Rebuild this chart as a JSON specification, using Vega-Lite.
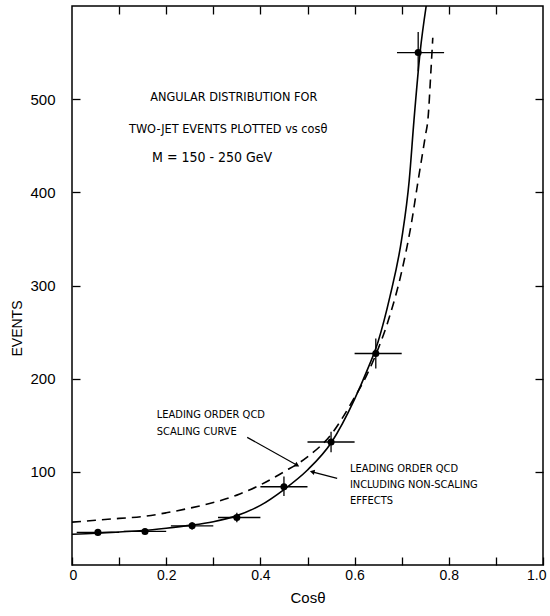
{
  "$schema": "https://vega.github.io/schema/vega-lite/v6.json",
  "width": 471,
  "height": 559,
  "autosize": {"type": "none"},
  "padding": {"left": 72, "top": 6, "right": 7, "bottom": 51},
  "background": "white",
  "config": {
    "view": {"stroke": "black", "strokeWidth": 1.5},
    "font": "Liberation Sans"
  },
  "datasets": {
    "points": [
      {"x": 0.055, "y": 35, "xlo": 0.01, "xhi": 0.1, "ylo": 32, "yhi": 38},
      {"x": 0.155, "y": 36, "xlo": 0.11, "xhi": 0.2, "ylo": 33, "yhi": 39},
      {"x": 0.255, "y": 42, "xlo": 0.21, "xhi": 0.3, "ylo": 38, "yhi": 46},
      {"x": 0.35, "y": 51, "xlo": 0.31, "xhi": 0.4, "ylo": 46, "yhi": 56},
      {"x": 0.45, "y": 84, "xlo": 0.4, "xhi": 0.5, "ylo": 74, "yhi": 95},
      {"x": 0.55, "y": 132, "xlo": 0.5, "xhi": 0.6, "ylo": 121, "yhi": 143},
      {"x": 0.645, "y": 227, "xlo": 0.6, "xhi": 0.7, "ylo": 211, "yhi": 243},
      {"x": 0.735, "y": 550, "xlo": 0.69, "xhi": 0.79, "ylo": 530, "yhi": 572}
    ],
    "solid": [
      {"x": 0, "y": 33}, {"x": 0.05, "y": 34}, {"x": 0.1, "y": 35.5}, {"x": 0.15, "y": 37},
      {"x": 0.2, "y": 39.5}, {"x": 0.25, "y": 42.5}, {"x": 0.3, "y": 46.5}, {"x": 0.35, "y": 53},
      {"x": 0.4, "y": 64}, {"x": 0.45, "y": 81}, {"x": 0.5, "y": 102}, {"x": 0.55, "y": 131},
      {"x": 0.6, "y": 178}, {"x": 0.625, "y": 207}, {"x": 0.65, "y": 240}, {"x": 0.675, "y": 288},
      {"x": 0.7, "y": 350}, {"x": 0.716, "y": 413}, {"x": 0.726, "y": 477}, {"x": 0.739, "y": 550},
      {"x": 0.752, "y": 600}
    ],
    "dashed": [
      {"x": 0, "y": 46}, {"x": 0.05, "y": 48}, {"x": 0.1, "y": 50}, {"x": 0.15, "y": 52},
      {"x": 0.2, "y": 56}, {"x": 0.25, "y": 61}, {"x": 0.3, "y": 67}, {"x": 0.35, "y": 75},
      {"x": 0.4, "y": 86}, {"x": 0.45, "y": 100}, {"x": 0.5, "y": 116}, {"x": 0.55, "y": 140},
      {"x": 0.6, "y": 180}, {"x": 0.625, "y": 203}, {"x": 0.65, "y": 232}, {"x": 0.675, "y": 268},
      {"x": 0.7, "y": 315}, {"x": 0.72, "y": 365}, {"x": 0.735, "y": 413}, {"x": 0.75, "y": 460},
      {"x": 0.756, "y": 480}, {"x": 0.762, "y": 530}, {"x": 0.766, "y": 566}
    ],
    "titles": [
      {"x": 0.166, "y": 502, "text": "ANGULAR DISTRIBUTION FOR"},
      {"x": 0.121, "y": 468, "text": "TWO-JET EVENTS PLOTTED vs cosθ"},
      {"x": 0.17, "y": 437, "text": "M = 150 - 250 GeV"}
    ],
    "notes": [
      {"x": 0.18, "y": 161, "text": "LEADING ORDER QCD"},
      {"x": 0.18, "y": 143, "text": "SCALING CURVE"},
      {"x": 0.59, "y": 103, "text": "LEADING ORDER QCD"},
      {"x": 0.59, "y": 86, "text": "INCLUDING NON-SCALING"},
      {"x": 0.59, "y": 69, "text": "EFFECTS"}
    ],
    "arrows": [
      {"id": "a", "x": 0.372, "y": 137, "x2": 0.478, "y2": 107},
      {"id": "b", "x": 0.563, "y": 93, "x2": 0.51, "y2": 100}
    ]
  },
  "resolve": {"axis": {"x": "independent", "y": "independent"}},
  "layer": [
    {
      "layer": [
        {
          "data": {"name": "solid"},
          "mark": {"type": "line", "color": "black", "strokeWidth": 1.6, "interpolate": "monotone", "clip": true},
          "encoding": {
            "x": {
              "field": "x", "type": "quantitative",
              "scale": {"domain": [0, 1], "nice": false, "zero": false},
              "axis": {
                "orient": "bottom",
                "values": [0, 0.1, 0.2, 0.3, 0.4, 0.5, 0.6, 0.7, 0.8, 0.9, 1],
                "labelExpr": "datum.value == 0 ? '0' : (round(datum.value * 10) % 2 == 0 ? format(datum.value, '.1f') : '')",
                "labelFlush": true, "labelFlushOffset": 3, "labelOverlap": false,
                "tickSize": -8, "tickWidth": 1.3, "tickColor": "black",
                "labelPadding": 11, "labelFont": "Liberation Sans", "labelFontSize": 14, "labelColor": "black",
                "domain": false, "grid": false,
                "title": "Cosθ", "titleFont": "Liberation Sans", "titleFontSize": 15, "titleFontWeight": "normal",
                "titleColor": "black", "titlePadding": 8
              }
            },
            "y": {
              "field": "y", "type": "quantitative",
              "scale": {"domain": [0, 600], "nice": false, "zero": true},
              "axis": {
                "orient": "left",
                "values": [100, 200, 300, 400, 500],
                "tickSize": -8, "tickWidth": 1.3, "tickColor": "black",
                "labelPadding": 25, "labelFont": "Liberation Sans", "labelFontSize": 15, "labelColor": "black",
                "domain": false, "grid": false,
                "title": "EVENTS", "titleFont": "Liberation Sans", "titleFontSize": 14, "titleFontWeight": "normal",
                "titleColor": "black", "titleAngle": -90, "titleBaseline": "bottom", "titleAlign": "center",
                "titleX": -48, "titleY": 322
              }
            }
          }
        },
        {
          "data": {"name": "dashed"},
          "mark": {"type": "line", "color": "black", "strokeWidth": 1.6, "strokeDash": [9, 6], "interpolate": "monotone", "clip": true},
          "encoding": {
            "x": {"field": "x", "type": "quantitative"},
            "y": {"field": "y", "type": "quantitative"}
          }
        },
        {
          "data": {"name": "points"},
          "mark": {"type": "rule", "color": "black", "strokeWidth": 1.3},
          "encoding": {
            "x": {"field": "xlo", "type": "quantitative"},
            "x2": {"field": "xhi"},
            "y": {"field": "y", "type": "quantitative"}
          }
        },
        {
          "data": {"name": "points"},
          "mark": {"type": "rule", "color": "black", "strokeWidth": 1.3},
          "encoding": {
            "x": {"field": "x", "type": "quantitative"},
            "y": {"field": "ylo", "type": "quantitative"},
            "y2": {"field": "yhi"}
          }
        },
        {
          "data": {"name": "points"},
          "mark": {"type": "point", "filled": true, "color": "black", "opacity": 1, "size": 50},
          "encoding": {
            "x": {"field": "x", "type": "quantitative"},
            "y": {"field": "y", "type": "quantitative"}
          }
        },
        {
          "data": {"name": "titles"},
          "transform": [{"filter": "datum.text[0] != 'M'"}],
          "mark": {"type": "text", "align": "left", "baseline": "middle", "font": "'Liberation Sans Narrow', 'DejaVu Sans Condensed', 'Liberation Sans'", "fontSize": 12.6, "color": "black"},
          "encoding": {
            "x": {"field": "x", "type": "quantitative"},
            "y": {"field": "y", "type": "quantitative"},
            "text": {"field": "text"}
          }
        },
        {
          "data": {"name": "titles"},
          "transform": [{"filter": "datum.text[0] == 'M'"}],
          "mark": {"type": "text", "align": "left", "baseline": "middle", "font": "'Liberation Sans Narrow', 'DejaVu Sans Condensed', 'Liberation Sans'", "fontSize": 14, "color": "black"},
          "encoding": {
            "x": {"field": "x", "type": "quantitative"},
            "y": {"field": "y", "type": "quantitative"},
            "text": {"field": "text"}
          }
        },
        {
          "data": {"name": "notes"},
          "mark": {"type": "text", "align": "left", "baseline": "middle", "font": "'Liberation Sans Narrow', 'DejaVu Sans Condensed', 'Liberation Sans'", "fontSize": 11, "color": "black"},
          "encoding": {
            "x": {"field": "x", "type": "quantitative"},
            "y": {"field": "y", "type": "quantitative"},
            "text": {"field": "text"}
          }
        },
        {
          "data": {"name": "arrows"},
          "mark": {"type": "rule", "color": "black", "strokeWidth": 1.2},
          "encoding": {
            "x": {"field": "x", "type": "quantitative"},
            "y": {"field": "y", "type": "quantitative"},
            "x2": {"field": "x2"},
            "y2": {"field": "y2"}
          }
        },
        {
          "data": {"name": "arrows"},
          "transform": [{"filter": "datum.id == 'a'"}],
          "mark": {"type": "point", "shape": "triangle-up", "filled": true, "color": "black", "opacity": 1, "size": 30, "angle": 119},
          "encoding": {
            "x": {"field": "x2", "type": "quantitative"},
            "y": {"field": "y2", "type": "quantitative"}
          }
        },
        {
          "data": {"name": "arrows"},
          "transform": [{"filter": "datum.id == 'b'"}],
          "mark": {"type": "point", "shape": "triangle-up", "filled": true, "color": "black", "opacity": 1, "size": 30, "angle": 283},
          "encoding": {
            "x": {"field": "x2", "type": "quantitative"},
            "y": {"field": "y2", "type": "quantitative"}
          }
        }
      ]
    },
    {
      "data": {"name": "points"},
      "mark": {"type": "point", "opacity": 0},
      "encoding": {
        "x": {
          "field": "x", "type": "quantitative",
          "axis": {
            "orient": "top", "values": [0.1, 0.2, 0.3, 0.4, 0.5, 0.6, 0.7, 0.8, 0.9],
            "labels": false, "tickSize": -8, "tickWidth": 1.3, "tickColor": "black",
            "domain": false, "grid": false, "title": null
          }
        },
        "y": {
          "field": "y", "type": "quantitative",
          "axis": {
            "orient": "right", "values": [100, 200, 300, 400, 500],
            "labels": false, "tickSize": -8, "tickWidth": 1.3, "tickColor": "black",
            "domain": false, "grid": false, "title": null
          }
        }
      }
    }
  ]
}
